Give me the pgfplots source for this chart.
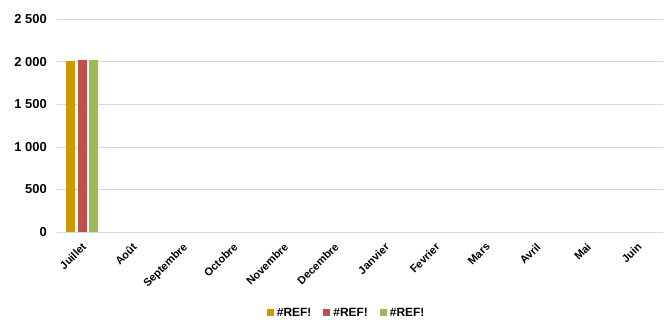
\documentclass[border=0pt]{standalone}
\usepackage{pgfplots}
\pgfplotsset{compat=1.18}
\usepackage{fontspec}
\setmainfont{Liberation Sans}
\definecolor{cA}{HTML}{CC9900}
\definecolor{cB}{HTML}{C0504D}
\definecolor{cC}{HTML}{9BBB59}
\definecolor{gridc}{HTML}{D9D9D9}
\begin{document}
\begin{tikzpicture}
\begin{axis}[
  scale only axis,
  width=606bp, height=213bp,
  ymin=0, ymax=2500, ytick distance=500,
  xmin=-0.5, xmax=11.5,
  xtick={0,...,11},
  xticklabels={Juillet,Août,Septembre,Octobre,Novembre,Decembre,Janvier,Fevrier,Mars,Avril,Mai,Juin},
  xticklabel style={xshift=-1bp, yshift=-10bp, rotate=45, anchor=north east, inner sep=0bp, font=\bfseries\fontsize{11}{12}\selectfont},
  yticklabel style={font=\bfseries\fontsize{13}{14}\selectfont, inner sep=2bp, xshift=-8bp},
  /pgf/number format/assume math mode=true,
  /pgf/number format/1000 sep={\ },
  axis x line*=bottom, axis y line*=left,
  x axis line style={draw=gridc, -},
  y axis line style={draw=none},
  ymajorgrids, grid style={draw=gridc},
  major tick length=0pt,
  ybar=2.5bp, bar width=9bp,
  legend style={at={(0.478,-0.38)}, anchor=center, legend columns=3, draw=none,
    font=\bfseries\fontsize{12}{14}\selectfont, inner sep=0bp,
    /tikz/every odd column/.append style={column sep=1bp},
    /tikz/every even column/.append style={column sep=10bp}},
  legend image code/.code={\fill[#1] (0bp,-3.5bp) rectangle (7bp,3.5bp);},
  clip=false,
]
\addplot[fill=cA, draw=none] coordinates {(0,2005)};
\addplot[fill=cB, draw=none] coordinates {(0,2020)};
\addplot[fill=cC, draw=none] coordinates {(0,2022)};
\legend{\#REF!,\#REF!,\#REF!}
\end{axis}
\path[use as bounding box] ([xshift=-57bp,yshift=-88bp]current axis.south west) rectangle ([xshift=7bp,yshift=19bp]current axis.north east);
\end{tikzpicture}
\end{document}
